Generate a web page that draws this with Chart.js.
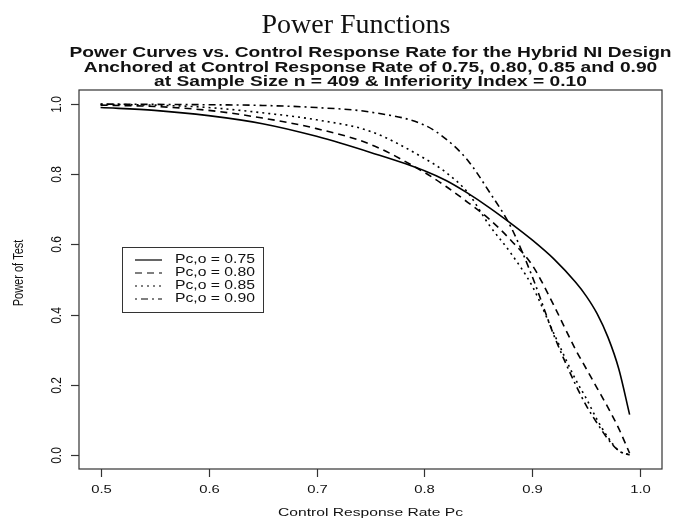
<!DOCTYPE html>
<html>
<head>
<meta charset="utf-8">
<script src="https://cdn.jsdelivr.net/npm/chart.js@4"></script>
<style>
  html, body { margin: 0; padding: 0; background: #fff; }
  #wrap { width: 674px; height: 524px; }
</style>
</head>
<body>
<div id="wrap"><canvas id="powerChart" width="674" height="524"></canvas></div>
<script>
// control response rate grid (x) and power read for each anchored design
const pc = [0.50,0.55,0.60,0.65,0.70,0.75,0.80,0.82,0.84,0.86,0.88,0.90,0.92,0.94,0.95,0.96,0.97,0.98,0.99];
const power075 = [0.990,0.982,0.967,0.944,0.908,0.862,0.810,0.782,0.746,0.705,0.660,0.612,0.558,0.492,0.452,0.402,0.335,0.245,0.115];
const power080 = [0.997,0.993,0.982,0.960,0.930,0.885,0.805,0.765,0.720,0.672,0.612,0.540,0.425,0.300,0.245,0.190,0.135,0.075,0.005];
const power085 = [0.999,0.997,0.990,0.975,0.955,0.922,0.845,0.805,0.748,0.655,0.575,0.480,0.345,0.215,0.160,0.100,0.050,0.012,0.000];
const power090 = [1.000,0.999,0.998,0.996,0.990,0.977,0.940,0.900,0.840,0.750,0.650,0.507,0.340,0.200,0.140,0.090,0.045,0.012,0.000];
const seriesLabels = ['Pc,o = 0.75','Pc,o = 0.80','Pc,o = 0.85','Pc,o = 0.90'];
const xTicks = [0.5,0.6,0.7,0.8,0.9,1.0];
const yTicks = [0.0,0.2,0.4,0.6,0.8,1.0];

const mainTitle = 'Power Functions';
const subTitle = [
  'Power Curves vs. Control Response Rate for the Hybrid NI Design',
  'Anchored at Control Response Rate of 0.75, 0.80, 0.85 and 0.90',
  'at Sample Size n = 409 & Inferiority Index = 0.10'
];
const xTitle = 'Control Response Rate Pc';
const yTitle = 'Power of Test';

const pts = ys => pc.map((x, i) => ({x: x, y: ys[i]}));
const dashes = [[], [7,5], [2,4], [2,4,7,4]];
const allSeries = [power075, power080, power085, power090];

const SANS = '"Liberation Sans", Arial, sans-serif';

// text with a horizontal stretch (the source image is wider than tall)
function txt(ctx, s, x, y, font, sx, rotated) {
  ctx.save();
  ctx.translate(x, y);
  ctx.scale(sx, 1);
  if (rotated) ctx.rotate(-Math.PI / 2);
  ctx.font = font;
  ctx.fillText(s, 0, 0);
  ctx.restore();
}

// R-style frame, ticks, labels, titles and legend
const rFrame = {
  id: 'rFrame',
  afterDraw(chart) {
    const ctx = chart.ctx;
    const a = chart.chartArea;
    const xs = chart.scales.x, ys = chart.scales.y;
    ctx.save();
    ctx.strokeStyle = '#333';
    ctx.lineWidth = 1.2;
    ctx.strokeRect(a.left, a.top, a.right - a.left, a.bottom - a.top);

    ctx.fillStyle = '#111';
    ctx.textAlign = 'center';
    ctx.textBaseline = 'middle';
    xTicks.forEach(v => {
      const px = Math.round(xs.getPixelForValue(v)) + 0.5;
      ctx.beginPath(); ctx.moveTo(px, a.bottom); ctx.lineTo(px, a.bottom + 8); ctx.stroke();
      txt(ctx, v.toFixed(1), px, a.bottom + 21, '11px ' + SANS, 1.35);
    });
    yTicks.forEach(v => {
      const py = Math.round(ys.getPixelForValue(v)) + 0.5;
      ctx.beginPath(); ctx.moveTo(a.left, py); ctx.lineTo(a.left - 8, py); ctx.stroke();
      txt(ctx, v.toFixed(1), a.left - 22, py, '12px ' + SANS, 1.2, true);
    });
    // axis titles
    txt(ctx, xTitle, (a.left + a.right) / 2, 513, '11px ' + SANS, 1.42);
    txt(ctx, yTitle, 19, 273, '11px ' + SANS, 1.3, true);

    // titles
    ctx.textBaseline = 'alphabetic';
    txt(ctx, mainTitle, 356, 33, '28px "Liberation Serif", "Times New Roman", serif', 1);
    ctx.textBaseline = 'middle';
    subTitle.forEach((t, i) => txt(ctx, t, (a.left + a.right) / 2, 53 + i * 14.7, 'bold 14px ' + SANS, 1.37));

    // legend
    const lx = 122, ly = 247, lw = 141, lh = 65;
    ctx.lineWidth = 1;
    ctx.strokeRect(lx + 0.5, ly + 0.5, lw, lh);
    ctx.textAlign = 'left';
    chart.data.datasets.forEach((ds, i) => {
      const ry = ly + 13 + i * 13;
      ctx.setLineDash(ds.borderDash);
      ctx.strokeStyle = '#000';
      ctx.lineWidth = 1.2;
      ctx.beginPath(); ctx.moveTo(lx + 13, ry); ctx.lineTo(lx + 40, ry); ctx.stroke();
      ctx.setLineDash([]);
      txt(ctx, ds.label, lx + 53, ry, '12px ' + SANS, 1.31);
    });
    ctx.restore();
  }
};

new Chart(document.getElementById('powerChart'), {
  type: 'line',
  data: {
    datasets: allSeries.map((s, i) => ({
      label: seriesLabels[i],
      data: pts(s),
      borderColor: '#000',
      borderWidth: 1.6,
      borderDash: dashes[i],
      pointRadius: 0,
      fill: false,
      cubicInterpolationMode: 'monotone'
    }))
  },
  options: {
    responsive: false,
    animation: false,
    layout: { padding: { left: 79, right: 12, top: 90, bottom: 55 } },
    plugins: { legend: { display: false }, tooltip: { enabled: false }, title: { display: false } },
    scales: {
      x: { type: 'linear', display: false, min: 0.48, max: 1.02 },
      y: { type: 'linear', display: false, min: -0.04, max: 1.04 }
    }
  },
  plugins: [rFrame]
});
</script>
</body>
</html>
